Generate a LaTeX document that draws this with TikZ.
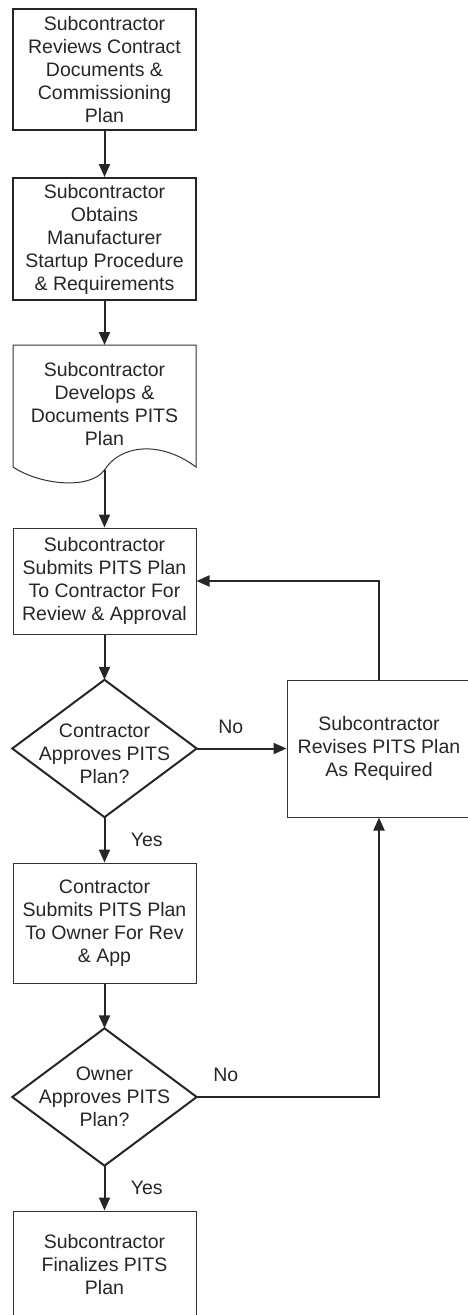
\documentclass[tikz,border=0pt]{standalone}
\usepackage{fontspec}
\setmainfont{Liberation Sans}
\usetikzlibrary{arrows.meta}
\begin{document}
\begin{tikzpicture}[x=1pt,y=-1pt,
  every node/.style={font=\fontsize{19.5}{23}\selectfont, align=center, text=black!85},
  every label/.style={font=\fontsize{19.5}{23}\selectfont, align=center, text=black!85},
  thinbox/.style={draw=black!80, line width=1pt, minimum width=183pt, inner sep=0pt},
  thickbox/.style={draw=black!85, line width=2pt, minimum width=183pt, inner sep=0pt},
  decision/.style={minimum width=184pt, minimum height=137pt, inner sep=0pt},
  dshape/.style={draw=black!85, line width=2pt, line join=miter},
  lbl/.style={font=\fontsize{19.5}{23}\selectfont, text=black!85},
  flow/.style={draw=black!85, line width=2pt, -{Triangle[length=13pt,width=11pt]}},
]
\useasboundingbox (0,0) rectangle (468,1315);
\clip (0,0) rectangle (468,1315);

\node[thickbox, minimum height=121pt] (b1) at (104.5,69.5) {Subcontractor\\Reviews Contract\\Documents \&\\Commissioning\\Plan};
\node[thickbox, minimum height=122pt] (b2) at (104.5,239) {Subcontractor\\Obtains\\Manufacturer\\Startup Procedure\\\& Requirements};

% document shape
\coordinate (dtop) at (104.5,345);
\coordinate (dbot) at (104.5,470);
\draw[draw=black!80, line width=1pt] (13,467) -- (13,345) -- (196,345) -- (196,467)
  .. controls (160,440) and (120,445) .. (104.5,470)
  .. controls (90,490) and (40,485) .. (13,467);
\node (d3) at (104.5,404) {Subcontractor\\Develops \&\\Documents PITS\\Plan};

\node[thinbox, minimum height=106pt] (b4) at (104.5,581) {Subcontractor\\Submits PITS Plan\\To Contractor For\\Review \& Approval};
\node[decision, label={[yshift=-5pt]center:{Contractor\\Approves PITS\\Plan?}}] (q1) at (104.5,748.5) {};
\draw[dshape] (q1.north) -- (q1.east) -- (q1.south) -- (q1.west) -- cycle;
\node[thinbox, minimum width=184pt, minimum height=137pt] (rv) at (379,748.5) {Subcontractor\\Revises PITS Plan\\As Required};
\node[thinbox, minimum height=120pt] (b5) at (104.5,923) {Contractor\\Submits PITS Plan\\To Owner For Rev\\\& App};
\node[decision] (q2) at (104.5,1097) {Owner\\Approves PITS\\Plan?};
\draw[dshape] (q2.north) -- (q2.east) -- (q2.south) -- (q2.west) -- cycle;
\node[thinbox, minimum height=120pt, label={[yshift=6pt]center:{Subcontractor\\Finalizes PITS\\Plan}}] (b6) at (104.5,1271) {};

\draw[flow] (b1) -- (b2);
\draw[flow] (b2) -- (dtop);
\draw[flow] (dbot) -- (b4);
\draw[flow] (b4) -- (q1.north);
\draw[flow] (q1.east) -- node[lbl, pos=0.38, above=10pt] {No} (rv);
\draw[flow] (rv.north) |- (b4.east);
\draw[flow] (q1.south) -- node[lbl, right=22pt] {Yes} (b5);
\draw[flow] (b5) -- (q2.north);
\draw[flow] (q2.east) -| node[lbl, pos=0.08, above=11pt] {No} (rv.south);
\draw[flow] (q2.south) -- node[lbl, right=22pt] {Yes} (b6);
\end{tikzpicture}
\end{document}
